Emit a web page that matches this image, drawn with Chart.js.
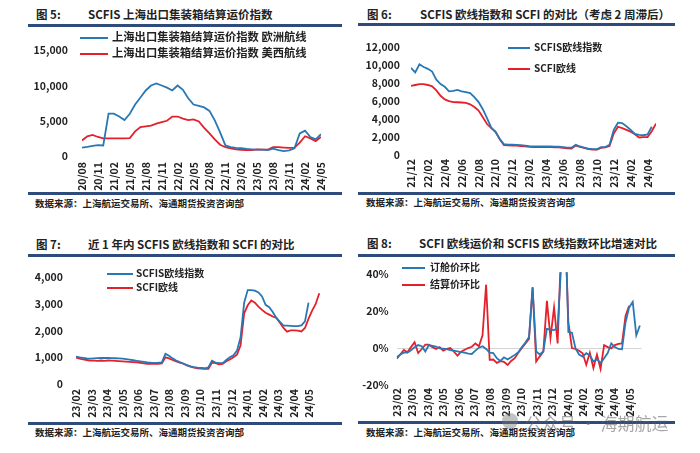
<!DOCTYPE html>
<html>
<head>
<meta charset="utf-8">
<script src="https://cdn.jsdelivr.net/npm/chart.js@4.4.1/dist/chart.umd.min.js"></script>
<style>
body{margin:0;background:#fff;width:700px;height:453px;position:relative;overflow:hidden;font-family:"Noto Sans CJK SC",sans-serif;color:#222}
.t{position:absolute;font-weight:bold;font-size:11.5px;line-height:14px;white-space:nowrap}
.rule{position:absolute;height:3px;background:#2f4b7c}
.src{position:absolute;font-size:9.5px;font-weight:bold;line-height:12px;white-space:nowrap}
canvas{position:absolute}
.lg{position:absolute;font-weight:bold;line-height:14px;white-space:nowrap}
.lg i{display:inline-block;height:2px;vertical-align:middle}
.wm{position:absolute;left:525px;top:412px;font-family:"Noto Sans CJK SC",sans-serif;font-size:17px;line-height:22px;color:rgba(95,95,95,0.55);white-space:nowrap}
.wm-ico{position:absolute;left:502px;top:413px;width:16px;height:16px;border-radius:50%;background:rgba(120,120,120,0.45)}
</style>
</head>
<body>

<!-- titles -->
<div class="t" style="left:36px;top:7px">图 5:</div>
<div class="t" style="left:88px;top:7px">SCFIS 上海出口集装箱结算运价指数</div>
<div class="t" style="left:367px;top:7px">图 6:</div>
<div class="t" style="left:420px;top:7px">SCFIS 欧线指数和 SCFI 的对比（考虑 2 周滞后）</div>
<div class="t" style="left:36px;top:237px">图 7:</div>
<div class="t" style="left:88px;top:237px">近 1 年内 SCFIS 欧线指数和 SCFI 的对比</div>
<div class="t" style="left:367px;top:236px">图 8:</div>
<div class="t" style="left:419px;top:236px">SCFI 欧线运价和 SCFIS 欧线指数环比增速对比</div>

<!-- rules -->
<div class="rule" style="left:28px;top:24px;width:314px"></div>
<div class="rule" style="left:28px;top:192px;width:314px"></div>
<div class="rule" style="left:358px;top:23px;width:317px"></div>
<div class="rule" style="left:358px;top:192px;width:317px"></div>
<div class="rule" style="left:28px;top:254px;width:314px"></div>
<div class="rule" style="left:28px;top:422px;width:314px"></div>
<div class="rule" style="left:358px;top:254px;width:317px"></div>
<div class="rule" style="left:358px;top:421px;width:317px"></div>

<!-- sources -->
<div class="src" style="left:35px;top:197px">数据来源：上海航运交易所、海通期货投资咨询部</div>
<div class="src" style="left:366px;top:196px">数据来源：上海航运交易所、海通期货投资咨询部</div>
<div class="src" style="left:35px;top:426px">数据来源：上海航运交易所、海通期货投资咨询部</div>
<div class="src" style="left:366px;top:426px">数据来源：上海航运交易所、海通期货投资咨询部</div>

<canvas id="c1" width="314" height="165" style="left:28px;top:30px"></canvas>
<canvas id="c2" width="317" height="165" style="left:358px;top:30px"></canvas>
<canvas id="c3" width="314" height="162" style="left:28px;top:258px"></canvas>
<canvas id="c4" width="317" height="162" style="left:358px;top:258px"></canvas>

<!-- legends -->
<div class="lg" style="left:80px;top:29px;font-size:11.3px"><i style="width:28px;background:#2878b5;margin-right:4px"></i>上海出口集装箱结算运价指数 欧洲航线</div>
<div class="lg" style="left:80px;top:45px;font-size:11.3px"><i style="width:28px;background:#e5202a;margin-right:4px"></i>上海出口集装箱结算运价指数 美西航线</div>
<div class="lg" style="left:508px;top:40px;font-size:10px"><i style="width:22px;background:#2878b5;margin-right:4px"></i>SCFIS欧线指数</div>
<div class="lg" style="left:508px;top:61px;font-size:10px"><i style="width:22px;background:#e5202a;margin-right:4px"></i>SCFI欧线</div>
<div class="lg" style="left:107px;top:266px;font-size:10px"><i style="width:26px;background:#2878b5;margin-right:3px"></i>SCFIS欧线指数</div>
<div class="lg" style="left:107px;top:280px;font-size:10px"><i style="width:26px;background:#e5202a;margin-right:3px"></i>SCFI欧线</div>
<div class="lg" style="left:402px;top:260px;font-size:10px"><i style="width:23px;background:#2878b5;margin-right:5px"></i>订舱价环比</div>
<div class="lg" style="left:402px;top:277px;font-size:10px"><i style="width:23px;background:#e5202a;margin-right:5px"></i>结算价环比</div>

<div class="wm-ico"></div>
<div class="wm">公众号 · 海期航运</div>

<script>
// ---- figure 5: monthly, 20/08 .. 24/05
const ticks1 = ["20/08","20/11","21/02","21/05","21/08","21/11","22/02","22/05","22/08","22/11","23/02","23/05","23/08","23/11","24/02","24/05"]
const euro1 = [1200,1300,1450,1550,1500,6000,6000,5600,5100,6000,7300,8300,9300,10000,10300,10000,9700,9300,10000,9400,8200,7300,7100,6900,6400,5050,3350,1500,1250,1150,1100,1000,950,900,900,850,1050,850,700,800,1100,3200,3600,2700,2350,3100]
const usw1 = [2200,2800,3000,2700,2500,2500,2500,2500,2500,2550,3500,4100,4200,4300,4600,4800,5000,5600,5600,5300,5100,5200,4900,4000,3200,2350,1600,1250,1100,950,870,850,830,950,900,900,1250,1250,1200,1150,1200,1900,2800,2500,2100,2700]

// ---- figure 6: half-monthly, 21/12 .. 24/05
const ticks2 = ["21/12","22/02","22/04","22/06","22/08","22/10","22/12","23/02","23/04","23/06","23/08","23/10","23/12","24/02","24/04"]
const scfis2 = [9700,9200,10100,9800,9600,9300,8400,7900,7600,7100,
7150,7250,7100,7000,6900,6450,5900,5100,4100,3050,
2550,1800,1200,1150,1150,1130,1100,1050,980,950,
950,950,950,950,940,920,880,830,820,1130,
950,830,720,650,640,880,880,1150,2800,3600,
3550,3200,2800,2350,2250,2200,2300,3150]
const scfi2 = [7700,7800,7900,7900,7800,7650,7200,6600,6200,6000,
5900,5880,5850,5800,5650,5350,4950,4200,3450,3000,
2600,1750,1100,1080,1060,1050,1000,950,900,880,
880,880,880,870,860,850,800,750,720,1050,
900,780,660,600,600,800,850,1000,2400,3150,
3000,2800,2600,2300,1950,2000,2000,2650,3500]

// ---- figure 7 / 8: weekly, 23/02 ..
const ticks3 = ["23/02","23/03","23/04","23/05","23/06","23/07","23/08","23/09","23/10","23/11","23/12","24/01","24/02","24/03","24/04","24/05"]
const scfis3 = [1030,1000,980,960,950,960,970,975,980,975,
970,965,960,950,930,910,890,870,850,830,
810,800,795,800,810,1130,1060,960,880,820,
770,710,660,630,610,600,590,620,870,800,
780,780,900,1000,1080,1250,1750,3050,3520,3520,
3500,3430,3280,2970,2880,2700,2480,2330,2190,2190,
2180,2170,2170,2200,2350,3050]
const scfi3 = [990,950,920,900,880,880,870,880,870,880,
875,870,860,850,840,830,820,810,790,770,
760,760,755,760,770,1000,960,900,850,800,
760,700,650,610,590,580,565,570,800,780,
740,750,850,920,1000,1100,1450,2650,2950,3130,
3050,2900,2780,2670,2600,2530,2480,2300,2100,1960,
2010,2010,2000,1970,2100,2450,2750,3000,3400]

const booking4 = [-5,-3.5,-2.5,-2.5,-1.2,0.5,1.6,1.0,-1.9,1.6,
1.2,0.8,-0.2,-0.3,-0.6,-1.1,-1.4,-1.8,-2.2,-2.5,
-3.0,-3.2,-1.4,0.2,1.0,-0.5,-2.5,-2.7,-5.5,-7,
-5,-6.2,-5,-3.7,-2.3,0.5,3.0,6.0,32.5,-1.8,
-3.5,-1.8,10.4,10,9.7,11,45,80,8.7,8.3,
-0.2,-3.5,-4.6,-2.8,-4,-7.3,-6,-8.1,-5.5,-2.7,
2.5,0.5,-0.5,-0.7,14,22,25,6.9,12.2]
const settle4 = [-5.8,-3.5,-1,-2.3,0.5,3.2,-2.7,-0.5,1.8,1.8,
0.5,-0.5,0.5,-1.4,-0.5,0,-2,-4.1,-2,-0.9,
0,0.7,2.5,1.0,6.9,34.3,-6.4,-6.2,-8,-7.1,
-7.5,-9.2,-7,-5.5,-2.5,0,2.5,5.0,33,-7.3,
-4.5,-1.9,25.5,5.5,22,2.5,55,70,14,0,
-0.5,-1.5,-2.8,-9,-2.5,-10.8,-3.5,-11.3,1.6,0.5,
-0.2,1.6,2.3,2.5,17.5,22.8]

const BLUE = "#2878b5", RED = "#e5202a"
const FONT = "'Noto Sans CJK SC', sans-serif"
const WEEKS_PER_MONTH = 4.348

function pts(arr, step){
  return arr.map((v,i) => ({x: i/step, y: v}))
}

function ds(arr, step, color){
  return {data: pts(arr, step), borderColor: color, borderWidth: 1.8, pointRadius: 0, tension: 0, fill: false}
}

function makeChart(id, datasets, o){
  return new Chart(document.getElementById(id), {
    type: "line",
    data: {datasets: datasets},
    options: {
      responsive: false,
      animation: false,
      layout: {padding: {top: o.top, right: o.right, left: 0, bottom: 0}},
      plugins: {legend: {display: false}, tooltip: {enabled: false}},
      scales: {
        x: {
          type: "linear", min: o.xmin, max: o.xmax,
          afterBuildTicks: s => { s.ticks = o.xticks.map(v => ({value: v})) },
          afterFit: s => { s.height = o.xh },
          grid: {display: false, drawTicks: false},
          border: {display: false},
          ticks: {
            autoSkip: false, maxRotation: 90, minRotation: 90, padding: o.xpad,
            color: "#222", font: {family: FONT, size: 10.5, weight: "bold"},
            callback: (v, i) => o.xlabels[i]
          }
        },
        y: {
          min: o.ymin, max: o.ymax,
          afterBuildTicks: s => { s.ticks = o.yticks.map(v => ({value: v})) },
          afterFit: s => { s.width = o.yw },
          grid: {
            display: !!o.zero, drawTicks: false,
            color: c => (c.tick && c.tick.value === 0) ? "#d4d4d4" : "rgba(0,0,0,0)"
          },
          border: {display: false},
          ticks: {
            padding: o.ypad, color: "#222", font: {family: FONT, size: 10.5, weight: "bold"},
            callback: o.yfmt
          }
        }
      }
    }
  })
}

const comma = v => v.toLocaleString("en-US")

makeChart("c1", [ds(euro1, 1, BLUE), ds(usw1, 1, RED)], {
  top: 11.7, right: 21, xh: 39, yw: 54, xpad: 6, ypad: 14,
  xmin: 0, xmax: 45, xticks: ticks1.map((t,i) => i*3), xlabels: ticks1,
  ymin: 0, ymax: 15000, yticks: [0,5000,10000,15000], yfmt: comma
})

makeChart("c2", [ds(scfis2, 2, BLUE), ds(scfi2, 2, RED)], {
  top: 11.7, right: 19, xh: 40, yw: 53, xpad: 4, ypad: 11,
  xmin: 0, xmax: 29, xticks: ticks2.map((t,i) => i*2), xlabels: ticks2,
  ymin: 0, ymax: 12000, yticks: [0,2000,4000,6000,8000,10000,12000], yfmt: comma
})

makeChart("c3", [ds(scfis3, WEEKS_PER_MONTH, BLUE), ds(scfi3, WEEKS_PER_MONTH, RED)], {
  top: 12.7, right: 21, xh: 36, yw: 48, xpad: 5, ypad: 13,
  xmin: 0, xmax: 15.75, xticks: ticks3.map((t,i) => i), xlabels: ticks3,
  ymin: 0, ymax: 4000, yticks: [0,1000,2000,3000,4000], yfmt: comma
})

makeChart("c4", [ds(booking4, WEEKS_PER_MONTH, BLUE), ds(settle4, WEEKS_PER_MONTH, RED)], {
  top: 11.8, right: 33.4, xh: 35, yw: 38.7, xpad: 3, ypad: 8, zero: true,
  xmin: 0, xmax: 15.75, xticks: ticks3.map((t,i) => i), xlabels: ticks3,
  ymin: -20, ymax: 41, yticks: [-20,0,20,40], yfmt: v => v + "%"
})
</script>
</body>
</html>
